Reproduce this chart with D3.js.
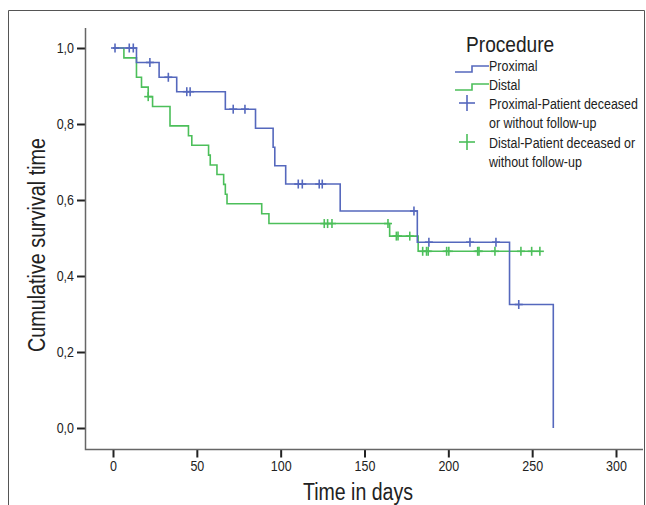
<!DOCTYPE html>
<html><head><meta charset="utf-8">
<script src="https://cdn.jsdelivr.net/npm/d3@7"></script>
<style>
body{margin:0;background:#fff;}
svg text{font-family:"Liberation Sans",Arial,sans-serif;fill:#222;}
</style></head><body>
<svg id="chart" width="646" height="505"></svg>
<script>
// ---- data ----
const proximalTimes = [0, 14, 27.5, 38, 67, 85, 95.5, 96.5, 103, 135.5, 181.5, 236.5, 262.6];
const proximalSurv  = [1, 0.962, 0.923, 0.885, 0.839, 0.789, 0.739, 0.690, 0.642, 0.571, 0.489, 0.325, 0];
const proximalCensor = [1.2, 9.7, 12.1, 22, 33, 44, 46, 71.7, 78.7, 110.5, 112.9, 123, 124.8, 179.5, 188.4, 212.9, 228.4, 242];

const distalTimes = [0, 6.5, 14, 17, 21, 23.6, 34, 45, 47, 57, 58, 62, 66, 67, 68, 88.7, 93, 165, 182];
const distalSurv  = [1, 0.974, 0.923, 0.897, 0.872, 0.846, 0.795, 0.769, 0.744, 0.718, 0.692, 0.667, 0.641, 0.615, 0.590, 0.564, 0.538, 0.505, 0.465];
const distalCensor = [21, 126, 128, 130.6, 164, 169, 170, 177, 184.7, 187, 188, 199, 200.3, 217.5, 218.3, 227.8, 243.3, 249.7, 254.6];

const xTicks = [0, 50, 100, 150, 200, 250, 300];
const yTicks = [0, 0.2, 0.4, 0.6, 0.8, 1.0];

const legendTitle = "Procedure";
const legendLines = ["Proximal", "Distal", "Proximal-Patient deceased", "or without follow-up", "Distal-Patient deceased or", "without follow-up"];

const blue = "#5568bd";
const green = "#4cbf5a";

// ---- layout ----
const svg = d3.select("#chart");
const x = d3.scaleLinear().domain([0, 300]).range([113, 616]);
const y = d3.scaleLinear().domain([0, 1]).range([428, 48]);

// condense text horizontally (narrow look)
function condense(sel, k, fixed){
  sel.each(function(){
    const w = fixed || this.getComputedTextLength() * k;
    d3.select(this).attr("textLength", w).attr("lengthAdjust", "spacingAndGlyphs");
  });
}
// narrow text via a scaled group
function narrowText(parent, tx, ty, k, size, str){
  return parent.append("g").attr("transform", `translate(${tx},${ty}) scale(${k},1)`)
    .append("text").attr("x",0).attr("y",0).attr("font-size",size).text(str);
}

// outer frame
svg.append("path").attr("d","M8.5,505 V10.5 H644.5 V505").attr("fill","none").attr("stroke","#555").attr("stroke-width",1);

// axes
const yAxis = d3.axisLeft(y).tickValues(yTicks).tickSize(8).tickPadding(3)
  .tickFormat(d => d3.format(".1f")(d).replace(".", ","));
const gy = svg.append("g").attr("transform","translate(85,0)").call(yAxis);
gy.select(".domain").remove();
gy.selectAll(".tick line").attr("stroke","#222").attr("stroke-width",2);
gy.selectAll(".tick text").attr("font-size",14.5).attr("fill","#222");
condense(gy.selectAll(".tick text"), 0.86);

const xAxis = d3.axisBottom(x).tickValues(xTicks).tickSize(8).tickPadding(3);
const gx = svg.append("g").attr("transform","translate(0,449.5)").call(xAxis);
gx.select(".domain").remove();
gx.selectAll(".tick line").attr("stroke","#222").attr("stroke-width",2);
gx.selectAll(".tick text").attr("font-size",14.5).attr("fill","#222");
condense(gx.selectAll(".tick text"), 0.86);

svg.append("path").attr("d","M85.5,28 V449.5 H643").attr("fill","none").attr("stroke","#666").attr("stroke-width",1.5);

// axis titles
const xt = svg.append("text").attr("x",358).attr("y",500).attr("text-anchor","middle").attr("font-size",23).text("Time in days");
condense(xt, 0, 110);
const yt = svg.append("text").attr("transform","translate(45,245) rotate(-90)").attr("text-anchor","middle").attr("font-size",23).text("Cumulative survival time");
condense(yt, 0, 214);

// survival curves
function stepFn(times, surv){
  return t => { let v = surv[0]; for (let i=0;i<times.length;i++){ if (times[i] <= t) v = surv[i]; } return v; };
}
const line = d3.line().x(d=>x(d[0])).y(d=>y(d[1])).curve(d3.curveStepAfter);

function drawGroup(times, surv, censor, color){
  const pts = times.map((t,i)=>[t, surv[i]]);
  const lastT = Math.max(times[times.length-1], d3.max(censor));
  if (lastT > times[times.length-1]) pts.push([lastT, surv[surv.length-1]]);
  svg.append("path").attr("d", line(pts)).attr("fill","none").attr("stroke",color).attr("stroke-width",1.6);
  const f = stepFn(times, surv);
  const g = svg.append("g").attr("stroke",color).attr("stroke-width",1.6);
  censor.forEach(t => {
    const cx = x(t), cy = y(f(t));
    g.append("line").attr("x1",cx).attr("x2",cx).attr("y1",cy-4.5).attr("y2",cy+4.5);
    g.append("line").attr("x1",cx-4).attr("x2",cx+4).attr("y1",cy).attr("y2",cy);
  });
}
drawGroup(distalTimes, distalSurv, distalCensor, green);
drawGroup(proximalTimes, proximalSurv, proximalCensor, blue);

// legend
const lg = svg.append("g");
narrowText(lg, 466, 52, 0.87, 22, legendTitle);
lg.append("path").attr("d","M455,72 H472 V66 H489").attr("fill","none").attr("stroke",blue).attr("stroke-width",1.6);
lg.append("path").attr("d","M455,90 H472 V84 H489").attr("fill","none").attr("stroke",green).attr("stroke-width",1.6);
function plus(cx, cy, color){
  lg.append("line").attr("x1",cx-8).attr("x2",cx+8).attr("y1",cy).attr("y2",cy).attr("stroke",color).attr("stroke-width",1.6);
  lg.append("line").attr("x1",cx).attr("x2",cx).attr("y1",cy-8).attr("y2",cy+8).attr("stroke",color).attr("stroke-width",1.6);
}
plus(467, 103, blue);
plus(467, 142, green);
const legendY = [71, 90, 109, 128, 148, 167];
legendLines.forEach((s, i) => narrowText(lg, 489, legendY[i], 0.86, 14.5, s));
</script></body></html>
